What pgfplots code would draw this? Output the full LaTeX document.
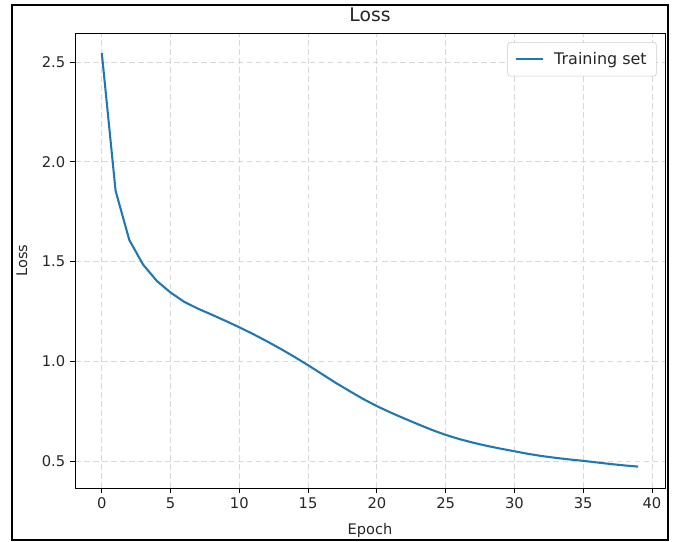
\documentclass[border=0pt]{standalone}
\usepackage{pgfplots}
\pgfplotsset{compat=1.18}
\usepackage{fontspec}
\setmainfont{DejaVu Sans}
\definecolor{mplblue}{HTML}{1F77B4}
\definecolor{gridc}{HTML}{D8D8D8}
\definecolor{legc}{HTML}{CCCCCC}
\begin{document}
\begin{tikzpicture}
\useasboundingbox (0,0) rectangle (484.56pt,390.24pt);
\draw[black,line width=1.6pt] (8.64pt,1.44pt) rectangle (480.96pt,386.64pt);
\begin{axis}[
  at={(54pt,38.88pt)}, anchor=south west,
  scale only axis, width=424.8pt, height=327.6pt,
  xmin=-1.95, xmax=40.95, ymin=0.366, ymax=2.645,
  xtick={0,5,...,40}, ytick={0.5,1.0,1.5,2.0,2.5},
  yticklabel style={/pgf/number format/.cd,fixed,fixed zerofill,precision=1},
  /pgf/number format/assume math mode=true,
  tick align=outside, tick pos=left,
  major tick length=3.5pt,
  tick style={black, line width=0.6pt},
  axis line style={black, line width=0.6pt},
  ticklabel style={font=\fontsize{10.6}{12}\selectfont, text=black!85},
  grid=major,
  major grid style={gridc, line width=0.6pt, dash pattern=on 4pt off 2.5pt},
  title={Loss},
  title style={font=\fontsize{13.5}{15}\selectfont, text=black!85, at={(axis description cs:0.5,1.022)}, anchor=center},
  xlabel={Epoch}, ylabel={Loss},
  xlabel style={font=\fontsize{10.5}{12}\selectfont, text=black!85, at={(axis description cs:0.5,-0.094)}, anchor=center},
  ylabel style={font=\fontsize{10.5}{12}\selectfont, text=black!85, at={(axis description cs:-0.09,0.5)}, anchor=center},
  legend style={at={(axis description cs:0.986,0.98)}, anchor=north east,
    draw=legc, rounded corners=2pt, font=\fontsize{11.5}{13}\selectfont, text=black!85,
    inner xsep=5pt, inner ysep=5pt, row sep=0pt},
  legend cell align=left,
  legend image code/.code={\draw[#1] (0cm,0cm) -- (0.7cm,0cm); \path (0.88cm,0cm);},
]
\addplot[mplblue, line width=1.5pt] coordinates {
(0,2.544) (1,1.855) (2,1.608) (3,1.485) (4,1.403) (5,1.345) (6,1.298) (7,1.264)
(8,1.234) (9,1.203) (10,1.171) (11,1.137) (12,1.101) (13,1.063) (14,1.023)
(15,0.981) (16,0.937) (17,0.893) (18,0.852) (19,0.812) (20,0.776) (21,0.744)
(22,0.714) (23,0.685) (24,0.657) (25,0.632) (26,0.611) (27,0.593) (28,0.577)
(29,0.563) (30,0.550) (31,0.537) (32,0.526) (33,0.517) (34,0.509) (35,0.502)
(36,0.494) (37,0.486) (38,0.479) (39,0.473)
};
\addlegendentry{Training set}
\end{axis}
\end{tikzpicture}
\end{document}
